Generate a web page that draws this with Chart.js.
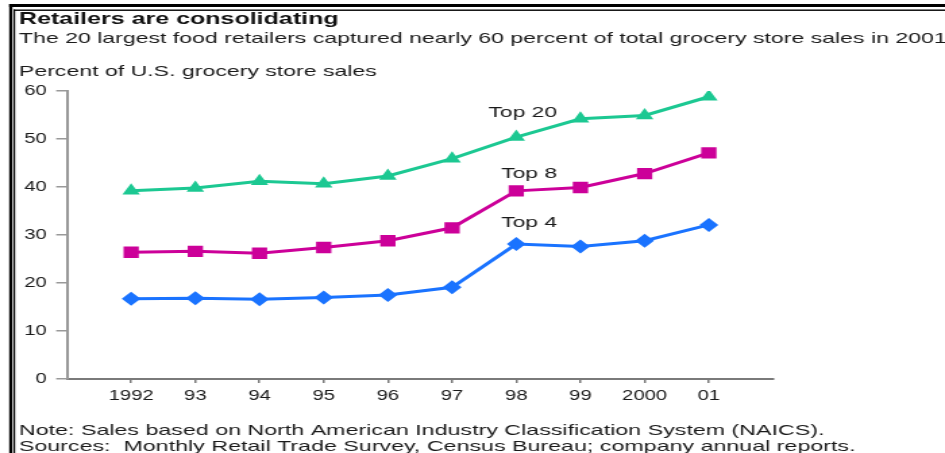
<!DOCTYPE html>
<html>
<head>
<meta charset="utf-8">
<script src="https://cdn.jsdelivr.net/npm/chart.js@4"></script>
<style>
  html, body { margin: 0; padding: 0; background: #fff; overflow: hidden; }
  /* the original picture is stretched sideways, so the canvas is too */
  #chart { display: block; width: 945px; height: 453px; }
</style>
</head>
<body>
<canvas id="chart" width="700" height="453" style="width:945px;height:453px"></canvas>
<script>
const years = [1992, 1993, 1994, 1995, 1996, 1997, 1998, 1999, 2000, 2001];
const yearLabels = ['1992', '93', '94', '95', '96', '97', '98', '99', '2000', '01'];
const top20 = [39.2, 39.8, 41.2, 40.7, 42.3, 45.9, 50.4, 54.2, 54.9, 58.8];
const top8 = [26.4, 26.6, 26.2, 27.4, 28.8, 31.5, 39.2, 39.9, 42.8, 47.1];
const top4 = [16.7, 16.8, 16.6, 17.0, 17.5, 19.1, 28.1, 27.6, 28.8, 32.1];

const font = "'Liberation Sans', Arial, sans-serif";

function pts(vals) {
  return years.map((y, i) => ({ x: y, y: vals[i] }));
}

// text is a bit wider than the tick labels in the original
function wideText(ctx, str, x, y, k) {
  ctx.save();
  ctx.translate(x, y);
  ctx.scale(k, 1);
  ctx.fillText(str, 0, 0);
  ctx.restore();
}

const textPlugin = {
  id: 'texts',
  beforeDraw(chart) {
    const ctx = chart.ctx;
    ctx.save();
    // frame
    ctx.fillStyle = '#000';
    ctx.fillRect(6.8, 4, 2.4, 449);
    ctx.fillRect(10, 9.5, 1.2, 444);
    ctx.fillRect(6.8, 4, 700, 3);
    ctx.fillRect(10, 9.5, 700, 1.4);
    ctx.textBaseline = 'alphabetic';
    ctx.fillStyle = '#111';
    ctx.font = 'bold 17px ' + font;
    wideText(ctx, 'Retailers are consolidating', 14, 24, 1.09);
    ctx.fillStyle = '#1a1a1a';
    ctx.font = '15px ' + font;
    wideText(ctx, 'The 20 largest food retailers captured nearly 60 percent of total grocery store sales in 2001', 14, 43, 1.14);
    wideText(ctx, 'Percent of U.S. grocery store sales', 14, 76, 1.14);
    wideText(ctx, 'Note: Sales based on North American Industry Classification System (NAICS).', 14, 435, 1.147);
    wideText(ctx, 'Sources:  Monthly Retail Trade Survey, Census Bureau; company annual reports.', 14, 451, 1.147);
    ctx.restore();
  },
  afterDatasetsDraw(chart, args, opts) {
    const ctx = chart.ctx;
    const xs = chart.scales.x, ys = chart.scales.y;
    ctx.save();
    ctx.fillStyle = '#1a1a1a';
    ctx.font = '15px ' + font;
    ctx.textAlign = 'center';
    ctx.textBaseline = 'middle';
    opts.labels.forEach(l => {
      wideText(ctx, l.text, xs.getPixelForValue(l.x), ys.getPixelForValue(l.y), 1.13);
    });
    ctx.restore();
  }
};

new Chart(document.getElementById('chart'), {
  type: 'line',
  data: {
    datasets: [
      { label: 'Top 20', data: pts(top20), borderColor: '#1cc892', backgroundColor: '#1cc892',
        pointStyle: 'triangle', pointRadius: 7.5 },
      { label: 'Top 8', data: pts(top8), borderColor: '#cc0099', backgroundColor: '#cc0099',
        pointStyle: 'rect', pointRadius: 8 },
      { label: 'Top 4', data: pts(top4), borderColor: '#1a73ff', backgroundColor: '#1a73ff',
        pointStyle: 'rectRot', pointRadius: 7 }
    ]
  },
  options: {
    responsive: false,
    animation: false,
    layout: { padding: { left: 0, right: 127.4, top: 91, bottom: 44 } },
    elements: {
      line: { borderWidth: 3, tension: 0 },
      point: { borderWidth: 0, hoverRadius: 8 }
    },
    plugins: {
      legend: { display: false },
      tooltip: { enabled: true },
      texts: {
        labels: [
          { text: 'Top 20', x: 1998.1, y: 55.4 },
          { text: 'Top 8', x: 1998.2, y: 42.7 },
          { text: 'Top 4', x: 1998.2, y: 32.5 }
        ]
      }
    },
    scales: {
      x: {
        type: 'linear',
        min: 1991,
        max: 2002,
        afterBuildTicks: s => { s.ticks = years.map(v => ({ value: v })); },
        afterFit: s => { s.height = 30; },
        border: { display: true, color: '#7a7a7a', width: 2 },
        grid: { drawOnChartArea: false, color: '#7a7a7a', tickLength: 4, lineWidth: 1.5 },
        ticks: {
          autoSkip: false,
          maxRotation: 0,
          padding: 4,
          color: '#1a1a1a',
          font: { family: font, size: 15 },
          callback: v => yearLabels[years.indexOf(v)]
        }
      },
      y: {
        min: 0,
        max: 60,
        afterFit: s => { s.width = 49.6; },
        border: { display: true, color: '#999', width: 2 },
        grid: { drawOnChartArea: false, color: '#999', tickLength: 8, lineWidth: 1.5 },
        ticks: {
          stepSize: 10,
          padding: 7,
          color: '#1a1a1a',
          font: { family: font, size: 15 }
        }
      }
    }
  },
  plugins: [textPlugin]
});
</script>
</body>
</html>
